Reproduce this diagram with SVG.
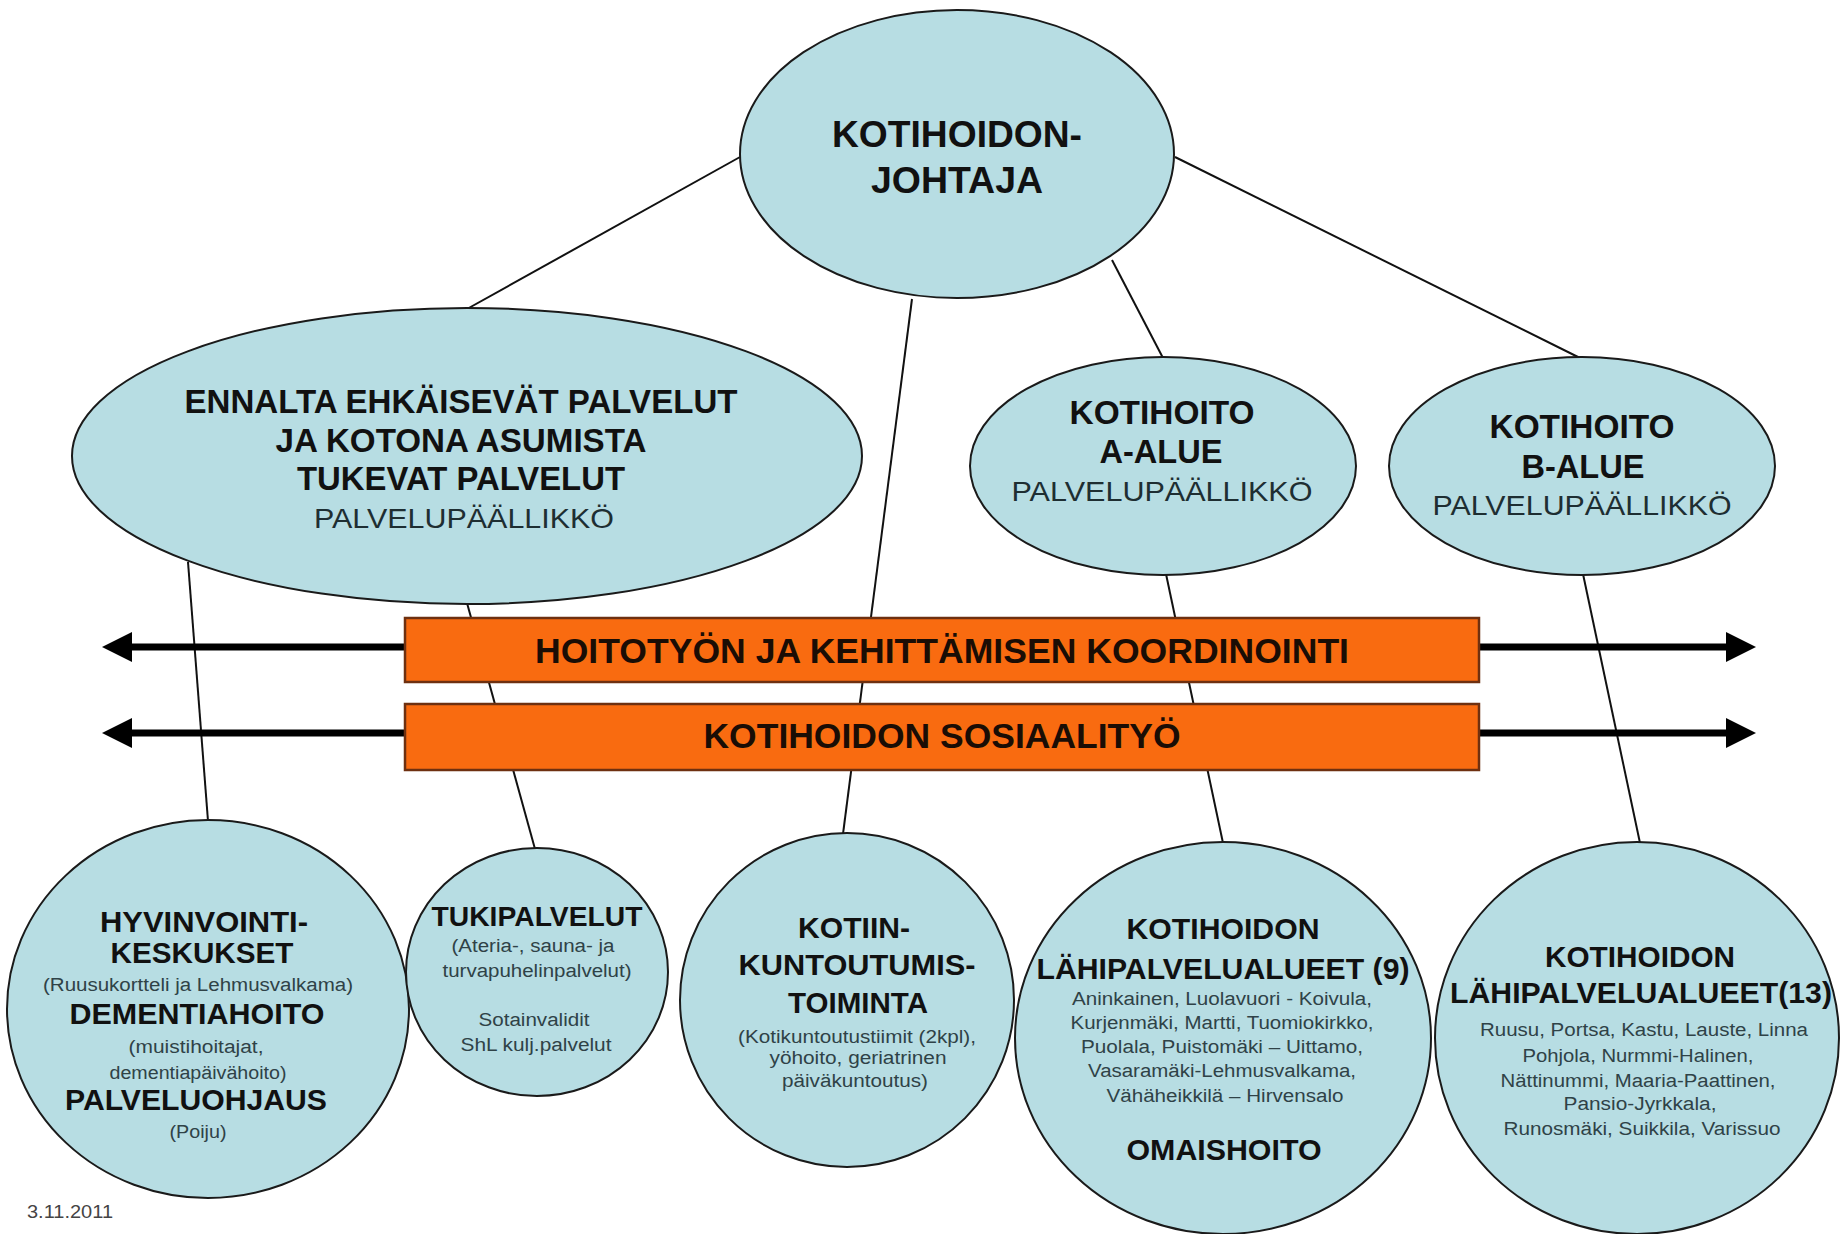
<svg xmlns="http://www.w3.org/2000/svg" width="1843" height="1234" viewBox="0 0 1843 1234">
  <style>
    text { font-family: "Liberation Sans", Arial, sans-serif; text-anchor: middle; }
    .node { fill: #B7DDE3; stroke: #1a1a1a; stroke-width: 2; }
    .b { font-weight: bold; fill: #111; }
    .r { fill: #1e2e32; }
    .s { fill: #2f4247; font-size: 18px; }
    .link { stroke: #111; stroke-width: 2; fill: none; }
    .arrow { stroke: #000; stroke-width: 7; marker-start: url(#head); marker-end: url(#head); }
    .bar { fill: #F96B10; stroke: #6E3010; stroke-width: 2.5; }
    .bartxt { font-weight: bold; font-size: 35px; fill: #1a0d05; }
  </style>
  <defs>
    <marker id="head" markerUnits="userSpaceOnUse" markerWidth="32" markerHeight="32" refX="12" refY="15" orient="auto-start-reverse">
      <path d="M0,0 L30,15 L0,30 Z" fill="#000"/>
    </marker>
  </defs>

  <rect width="1843" height="1234" fill="#fff"/>

  <!-- connectors -->
  <g id="connectors">
    <line class="link" x1="740" y1="157" x2="467" y2="309"/>
    <line class="link" x1="912" y1="299" x2="843" y2="834"/>
    <line class="link" x1="1112" y1="260" x2="1163" y2="358"/>
    <line class="link" x1="1175" y1="157" x2="1580" y2="358"/>
    <line class="link" x1="188" y1="562" x2="208" y2="821"/>
    <line class="link" x1="467" y1="603" x2="535" y2="849"/>
    <line class="link" x1="1166" y1="574" x2="1223" y2="843"/>
    <line class="link" x1="1583" y1="574" x2="1640" y2="843"/>
    <line class="arrow" x1="120" y1="647" x2="1738" y2="647"/>
    <line class="arrow" x1="120" y1="733" x2="1738" y2="733"/>
  </g>

  <!-- coordination bars -->
  <g id="bar-koordinointi">
    <rect class="bar" x="405" y="618" width="1074" height="64"/>
    <text class="bartxt" x="942" y="663" textLength="814" lengthAdjust="spacingAndGlyphs">HOITOTYÖN JA KEHITTÄMISEN KOORDINOINTI</text>
  </g>
  <g id="bar-sosiaalityo">
    <rect class="bar" x="405" y="704" width="1074" height="66"/>
    <text class="bartxt" x="942" y="748" textLength="477" lengthAdjust="spacingAndGlyphs">KOTIHOIDON SOSIAALITYÖ</text>
  </g>

  <!-- top level -->
  <g id="kotihoidon-johtaja">
    <ellipse class="node" cx="957" cy="154" rx="217" ry="144"/>
    <text class="b" x="957" y="147" font-size="36" textLength="250" lengthAdjust="spacingAndGlyphs">KOTIHOIDON-</text>
    <text class="b" x="957" y="193" font-size="36" textLength="172" lengthAdjust="spacingAndGlyphs">JOHTAJA</text>
  </g>

  <!-- service managers -->
  <g id="ennalta-ehkaisevat">
    <ellipse class="node" cx="467" cy="456" rx="395" ry="148"/>
    <text class="b" x="461" y="413" font-size="33" textLength="553" lengthAdjust="spacingAndGlyphs">ENNALTA EHKÄISEVÄT PALVELUT</text>
    <text class="b" x="461" y="452" font-size="33" textLength="371" lengthAdjust="spacingAndGlyphs">JA KOTONA ASUMISTA</text>
    <text class="b" x="461" y="490" font-size="33" textLength="328" lengthAdjust="spacingAndGlyphs">TUKEVAT PALVELUT</text>
    <text class="r" x="464" y="528" font-size="28" textLength="300" lengthAdjust="spacingAndGlyphs">PALVELUPÄÄLLIKKÖ</text>
  </g>

  <g id="kotihoito-a">
    <ellipse class="node" cx="1163" cy="466" rx="193" ry="109"/>
    <text class="b" x="1162" y="424" font-size="33" textLength="185" lengthAdjust="spacingAndGlyphs">KOTIHOITO</text>
    <text class="b" x="1161" y="463" font-size="33" textLength="123" lengthAdjust="spacingAndGlyphs">A-ALUE</text>
    <text class="r" x="1162" y="501" font-size="28" textLength="301" lengthAdjust="spacingAndGlyphs">PALVELUPÄÄLLIKKÖ</text>
  </g>

  <g id="kotihoito-b">
    <ellipse class="node" cx="1582" cy="466" rx="193" ry="109"/>
    <text class="b" x="1582" y="438" font-size="33" textLength="185" lengthAdjust="spacingAndGlyphs">KOTIHOITO</text>
    <text class="b" x="1583" y="478" font-size="33" textLength="123" lengthAdjust="spacingAndGlyphs">B-ALUE</text>
    <text class="r" x="1582" y="515" font-size="28" textLength="299" lengthAdjust="spacingAndGlyphs">PALVELUPÄÄLLIKKÖ</text>
  </g>

  <!-- units -->
  <g id="hyvinvointikeskukset">
    <ellipse class="node" cx="208" cy="1009" rx="201" ry="189"/>
    <text class="b" x="204" y="932" font-size="30" textLength="208" lengthAdjust="spacingAndGlyphs">HYVINVOINTI-</text>
    <text class="b" x="202" y="963" font-size="30" textLength="183" lengthAdjust="spacingAndGlyphs">KESKUKSET</text>
    <text class="s" x="198" y="991" font-size="17" textLength="310" lengthAdjust="spacingAndGlyphs">(Ruusukortteli ja Lehmusvalkama)</text>
    <text class="b" x="197" y="1024" font-size="30" textLength="255" lengthAdjust="spacingAndGlyphs">DEMENTIAHOITO</text>
    <text class="s" x="196" y="1053" textLength="135" lengthAdjust="spacingAndGlyphs">(muistihoitajat,</text>
    <text class="s" x="198" y="1079" textLength="177" lengthAdjust="spacingAndGlyphs">dementiapäivähoito)</text>
    <text class="b" x="196" y="1110" font-size="30" textLength="262" lengthAdjust="spacingAndGlyphs">PALVELUOHJAUS</text>
    <text class="s" x="198" y="1138" textLength="57" lengthAdjust="spacingAndGlyphs">(Poiju)</text>
  </g>

  <g id="tukipalvelut">
    <ellipse class="node" cx="537" cy="972" rx="131" ry="124"/>
    <text class="b" x="537" y="926" font-size="28" textLength="211" lengthAdjust="spacingAndGlyphs">TUKIPALVELUT</text>
    <text class="s" x="533" y="952" textLength="163" lengthAdjust="spacingAndGlyphs">(Ateria-, sauna- ja</text>
    <text class="s" x="537" y="977" textLength="189" lengthAdjust="spacingAndGlyphs">turvapuhelinpalvelut)</text>
    <text class="s" x="534" y="1026" textLength="111" lengthAdjust="spacingAndGlyphs">Sotainvalidit</text>
    <text class="s" x="536" y="1051" textLength="151" lengthAdjust="spacingAndGlyphs">ShL kulj.palvelut</text>
  </g>

  <g id="kotiinkuntoutus">
    <ellipse class="node" cx="847" cy="1000" rx="167" ry="167"/>
    <text class="b" x="854" y="938" font-size="30" textLength="112" lengthAdjust="spacingAndGlyphs">KOTIIN-</text>
    <text class="b" x="857" y="975" font-size="30" textLength="237" lengthAdjust="spacingAndGlyphs">KUNTOUTUMIS-</text>
    <text class="b" x="858" y="1013" font-size="30" textLength="140" lengthAdjust="spacingAndGlyphs">TOIMINTA</text>
    <text class="s" x="857" y="1043" textLength="238" lengthAdjust="spacingAndGlyphs">(Kotikuntoutustiimit (2kpl),</text>
    <text class="s" x="858" y="1064" textLength="177" lengthAdjust="spacingAndGlyphs">yöhoito, geriatrinen</text>
    <text class="s" x="855" y="1087" textLength="146" lengthAdjust="spacingAndGlyphs">päiväkuntoutus)</text>
  </g>

  <g id="lahipalvelualueet-a">
    <ellipse class="node" cx="1223" cy="1038" rx="208" ry="196"/>
    <text class="b" x="1223" y="939" font-size="30" textLength="193" lengthAdjust="spacingAndGlyphs">KOTIHOIDON</text>
    <text class="b" x="1223" y="979" font-size="30" textLength="373" lengthAdjust="spacingAndGlyphs">LÄHIPALVELUALUEET (9)</text>
    <text class="s" x="1222" y="1005" textLength="300" lengthAdjust="spacingAndGlyphs">Aninkainen, Luolavuori - Koivula,</text>
    <text class="s" x="1222" y="1029" textLength="303" lengthAdjust="spacingAndGlyphs">Kurjenmäki, Martti, Tuomiokirkko,</text>
    <text class="s" x="1222" y="1053" textLength="282" lengthAdjust="spacingAndGlyphs">Puolala, Puistomäki – Uittamo,</text>
    <text class="s" x="1222" y="1077" textLength="268" lengthAdjust="spacingAndGlyphs">Vasaramäki-Lehmusvalkama,</text>
    <text class="s" x="1225" y="1102" textLength="237" lengthAdjust="spacingAndGlyphs">Vähäheikkilä – Hirvensalo</text>
    <text class="b" x="1224" y="1160" font-size="30" textLength="195" lengthAdjust="spacingAndGlyphs">OMAISHOITO</text>
  </g>

  <g id="lahipalvelualueet-b">
    <ellipse class="node" cx="1637" cy="1038" rx="202" ry="196"/>
    <text class="b" x="1640" y="967" font-size="30" textLength="190" lengthAdjust="spacingAndGlyphs">KOTIHOIDON</text>
    <text class="b" x="1641" y="1003" font-size="30" textLength="382" lengthAdjust="spacingAndGlyphs">LÄHIPALVELUALUEET(13)</text>
    <text class="s" x="1644" y="1036" textLength="328" lengthAdjust="spacingAndGlyphs">Ruusu, Portsa, Kastu, Lauste, Linna</text>
    <text class="s" x="1638" y="1062" textLength="231" lengthAdjust="spacingAndGlyphs">Pohjola, Nurmmi-Halinen,</text>
    <text class="s" x="1638" y="1087" textLength="275" lengthAdjust="spacingAndGlyphs">Nättinummi, Maaria-Paattinen,</text>
    <text class="s" x="1640" y="1110" textLength="153" lengthAdjust="spacingAndGlyphs">Pansio-Jyrkkala,</text>
    <text class="s" x="1642" y="1135" textLength="277" lengthAdjust="spacingAndGlyphs">Runosmäki, Suikkila, Varissuo</text>
  </g>

  <text x="70" y="1218" font-size="18" fill="#444" textLength="86" lengthAdjust="spacingAndGlyphs">3.11.2011</text>
</svg>
